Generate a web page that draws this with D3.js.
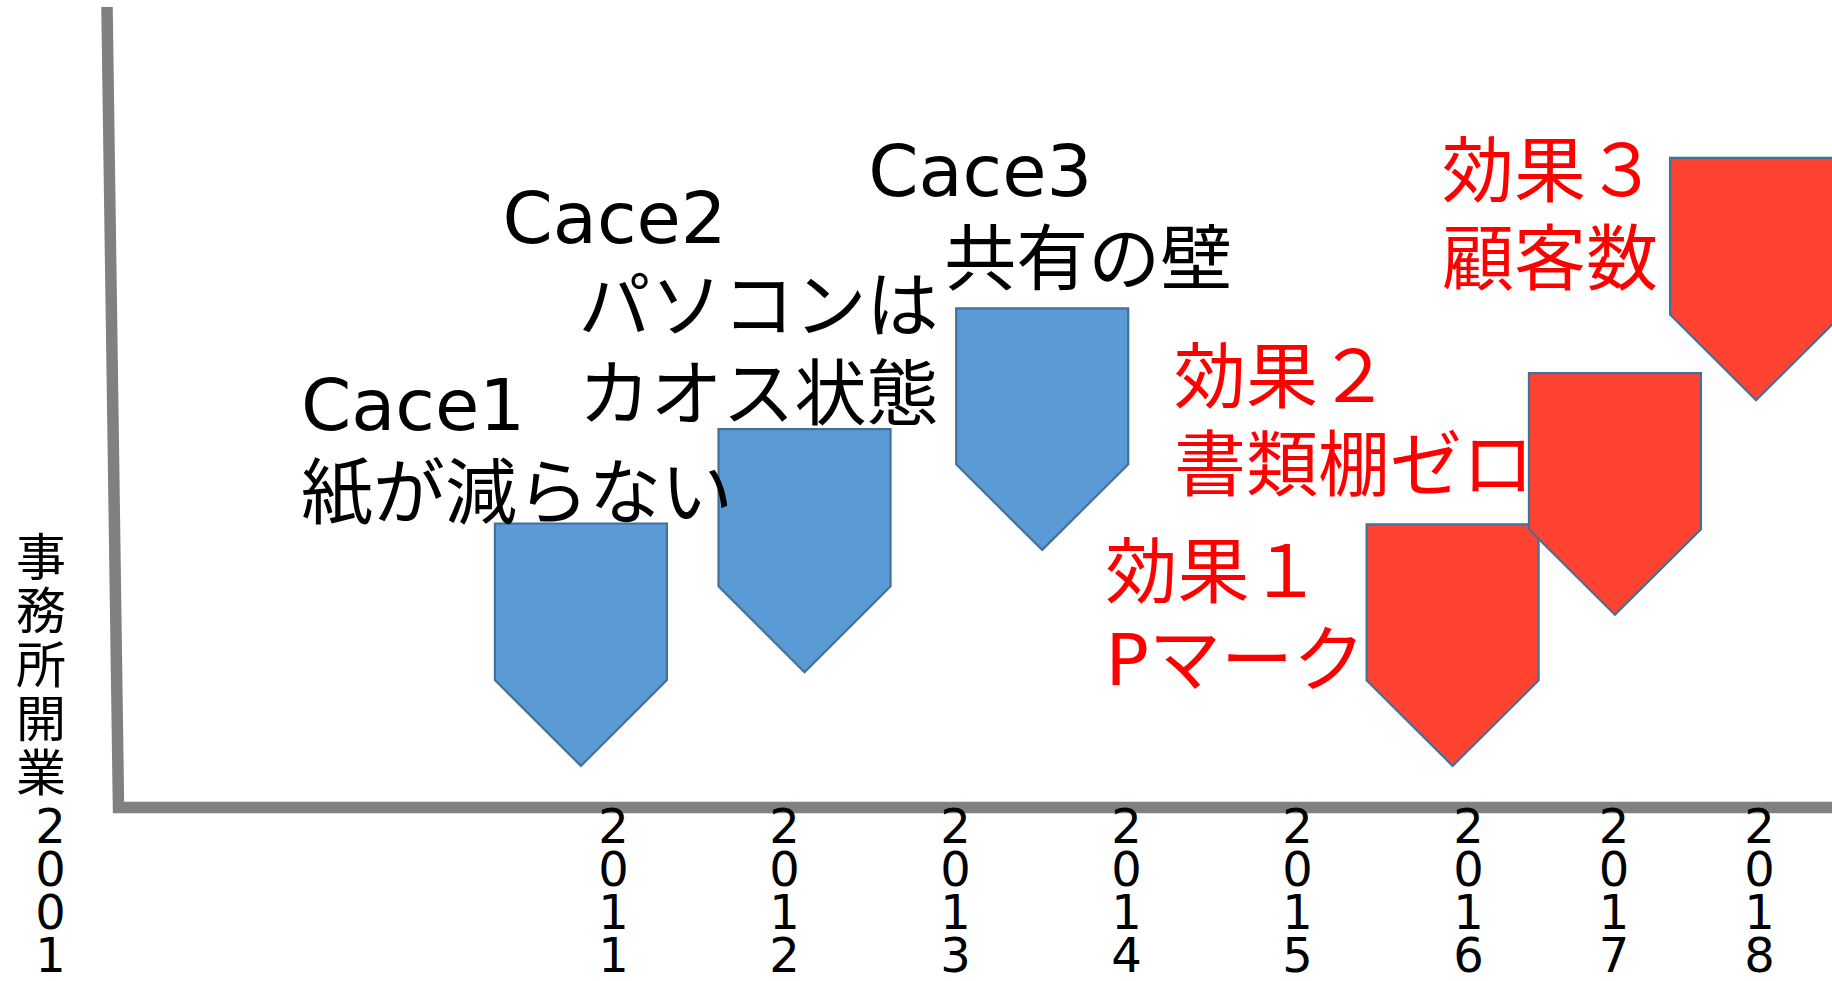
<!DOCTYPE html>
<html><head><meta charset="utf-8">
<script src="https://cdn.jsdelivr.net/npm/d3@7"></script>
<style>
html,body{margin:0;padding:0;background:#fff;overflow:hidden;}
svg{display:block;}
text{font-family:"DejaVu Sans","Noto Sans CJK JP",sans-serif;}
</style></head><body>
<svg id="chart" width="1832" height="981"></svg>
<script>
// ---- data ----
const years = [2001, 2011, 2012, 2013, 2014, 2015, 2016, 2017, 2018];
const arrowKind = ["case", "case", "case", "effect", "effect", "effect"];
const arrowYear = [2010.43, 2012.12, 2013.51, 2015.91, 2017.01, 2017.98];
const arrowTop  = [35.5, 47.3, 62.4, 35.4, 54.3, 81.2];
const arrowTip  = [5.2, 16.9, 32.2, 5.2, 24.1, 50.9];
const captions = [
  ["Cace1", "紙が減らない"],
  ["Cace2", "パソコンは", "カオス状態"],
  ["Cace3", "共有の壁"],
  ["効果１", "Pマーク"],
  ["効果２", "書類棚ゼロ"],
  ["効果３", "顧客数"]
];
const yAxisTitle = "事務所開業";

// ---- layout ----
const W = 1832, H = 981;
const svg = d3.select("#chart");
const x = d3.scaleLinear().domain([2001, 2011, 2016, 2018]).range([50, 613, 1468, 1759]);
const y = d3.scaleLinear().domain([0, 100]).range([807.5, 7.5]);
const halfW = 86, shoulderFrac = 157 / 243;
const fills = {case: "#5B9BD5", effect: "#FE4431"};
const textColor = {case: "#000000", effect: "#FF0000"};
// caption offsets relative to arrow's top-left corner (px); per-line x offsets
const capLayout = [
  {dx: [-194, -194], dy: -94},
  {dx: [-216, -140, -140], dy: -186},
  {dx: [-88, -12], dy: -112},
  {dx: [-261, -261], dy: 73},
  {dx: [-355, -355], dy: 29},
  {dx: [-228, -228], dy: 38}
];
const linePitch = 88;

// ---- axis lines ----
svg.append("path")
  .attr("d", d3.line()([[107, y(100) - 0.5], [118.5, y(0)], [W + 20, y(0)]]))
  .attr("fill", "none").attr("stroke", "#808080")
  .attr("stroke-width", 11.5).attr("stroke-linejoin", "miter");

// ---- arrows ----
const arrows = arrowYear.map((yr, i) => ({i, yr, top: arrowTop[i], tip: arrowTip[i], kind: arrowKind[i]}));
svg.append("g").selectAll("path").data(arrows).join("path")
  .attr("d", d => {
    const cx = x(d.yr), yt = y(d.top), yp = y(d.tip);
    const ys = yt + (yp - yt) * shoulderFrac;
    return d3.line()([[cx - halfW, yt], [cx + halfW, yt], [cx + halfW, ys], [cx, yp], [cx - halfW, ys]]) + "Z";
  })
  .attr("fill", d => fills[d.kind])
  .attr("stroke", "#41719C").attr("stroke-width", 2.2).attr("stroke-linejoin", "miter");

// ---- captions ----
svg.append("g").selectAll("text").data(arrows).join("text")
  .attr("fill", d => textColor[d.kind])
  .attr("font-size", 72)
  .attr("font-weight", 400)
  .each(function(d) {
    const left = x(d.yr) - halfW, top = y(d.top);
    const L = capLayout[d.i];
    d3.select(this).selectAll("tspan").data(captions[d.i]).join("tspan")
      .attr("x", (t, j) => left + L.dx[j])
      .attr("y", (t, j) => top + L.dy + j * linePitch)
      .text(t => t);
  });

// ---- x axis labels (vertical digit stacks) ----
const xAxis = d3.axisBottom(x).tickValues(years).tickSize(0).tickPadding(0).tickFormat(d3.format("d"));
const gx = svg.append("g").attr("transform", `translate(0,${y(0)})`).call(xAxis);
gx.select(".domain").remove();
gx.selectAll(".tick text").each(function(d) {
  const t = d3.select(this);
  const s = String(d);
  t.text(null).attr("y", null).attr("dy", null)
    .attr("font-size", 48).attr("font-family", "DejaVu Sans, Noto Sans CJK JP, sans-serif")
    .attr("fill", "#000").attr("text-anchor", "middle");
  t.selectAll("tspan").data(s.split("")).join("tspan")
    .attr("x", 0).attr("y", (c, j) => 35.5 + j * 43).text(c => c);
});

// ---- y axis title (vertical) ----
svg.append("text")
  .attr("font-size", 50).attr("fill", "#000").attr("text-anchor", "middle")
  .attr("font-family", "Noto Sans CJK JP, sans-serif")
  .selectAll("tspan").data(yAxisTitle.split("")).join("tspan")
  .attr("x", 41).attr("y", (c, j) => 575 + j * 54).text(c => c);
</script>
</body></html>
